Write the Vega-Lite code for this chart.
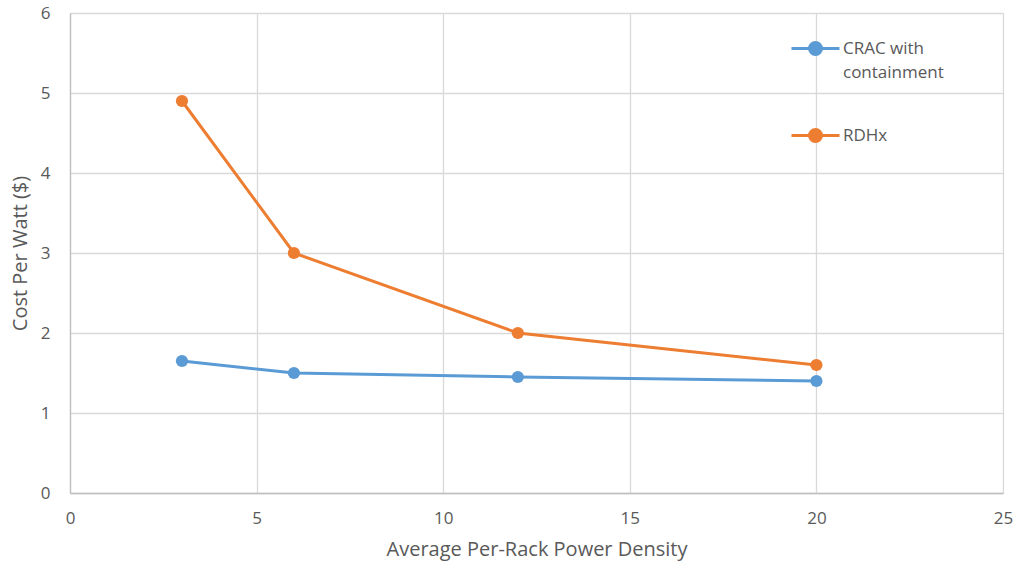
{
  "$schema": "https://vega.github.io/schema/vega-lite/v6.json",
  "autosize": {"type": "none"},
  "width": 933,
  "height": 480,
  "padding": {"left": 70, "top": 13, "right": 14, "bottom": 75},
  "background": "white",
  "config": {
    "view": {"stroke": null},
    "font": "Open Sans",
    "axis": {
      "gridColor": "#d9d9d9",
      "gridWidth": 1.3,
      "domainColor": "#bfbfbf",
      "domainWidth": 1.3,
      "ticks": false,
      "labelFlush": false,
      "labelColor": "#595959",
      "labelFontSize": 17,
      "titleColor": "#595959",
      "titleFontSize": 20,
      "titleFontWeight": "normal",
      "labelFont": "Open Sans",
      "titleFont": "Open Sans"
    }
  },
  "data": {
    "values": [
      {"density": 3, "cost": 1.65, "series": "CRAC with containment"},
      {"density": 6, "cost": 1.5, "series": "CRAC with containment"},
      {"density": 12, "cost": 1.45, "series": "CRAC with containment"},
      {"density": 20, "cost": 1.4, "series": "CRAC with containment"},
      {"density": 3, "cost": 4.9, "series": "RDHx"},
      {"density": 6, "cost": 3.0, "series": "RDHx"},
      {"density": 12, "cost": 2.0, "series": "RDHx"},
      {"density": 20, "cost": 1.6, "series": "RDHx"}
    ]
  },
  "encoding": {
    "x": {
      "field": "density", "type": "quantitative",
      "scale": {"domain": [0, 25], "nice": false},
      "axis": {"values": [0, 5, 10, 15, 20, 25], "title": "Average Per-Rack Power Density", "labelPadding": 17, "titlePadding": 13}
    },
    "y": {
      "field": "cost", "type": "quantitative",
      "scale": {"domain": [0, 6], "nice": false},
      "axis": {"values": [0, 1, 2, 3, 4, 5, 6], "title": "Cost Per Watt ($)", "labelPadding": 20, "titlePadding": 10}
    },
    "color": {
      "field": "series", "type": "nominal",
      "scale": {"domain": ["CRAC with containment", "RDHx"], "range": ["#5b9bd5", "#ed7d31"]},
      "legend": {
        "title": null,
        "orient": "none",
        "legendX": 720,
        "legendY": 10,
        "padding": 0,
        "symbolType": "M-1,0L1,0M-0.25,0A0.25,0.25 0 1,0 0.25,0A0.25,0.25 0 1,0 -0.25,0Z",
        "symbolSize": 2304,
        "symbolStrokeWidth": 3,
        "labelFontSize": 17,
        "labelColor": "#595959",
        "labelFont": "Open Sans",
        "labelOffset": 2,
        "rowPadding": 29,
        "labelExpr": "datum.label == 'CRAC with containment' ? ['CRAC with', 'containment'] : datum.label",
        "encode": {
          "symbols": {"update": {"fill": {"scale": "color", "field": "value"}, "stroke": {"scale": "color", "field": "value"}}},
          "labels": {"update": {"lineHeight": {"value": 24}}}
        }
      }
    }
  },
  "layer": [
    {"mark": {"type": "line", "strokeWidth": 3}},
    {"mark": {"type": "point", "filled": true, "size": 150, "opacity": 1}}
  ]
}
